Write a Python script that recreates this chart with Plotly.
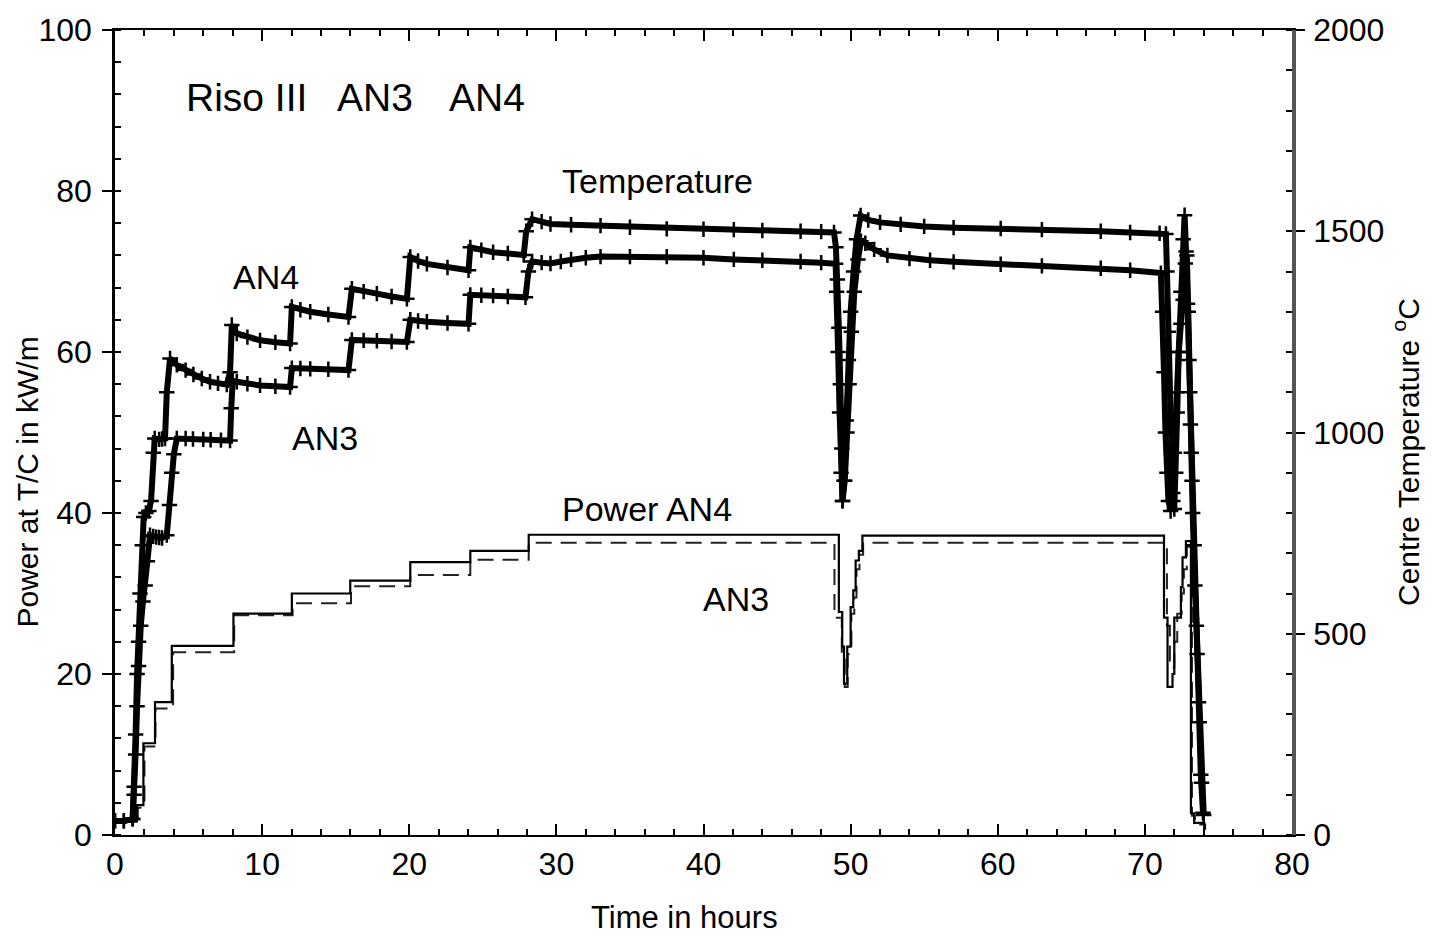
import plotly.graph_objects as go

# ---------------- data ----------------
# Power at T/C (kW/m), stepped
p4_t = [0, 1.48, 1.93, 2.72, 3.86, 8.05, 12.02, 15.99, 20.07, 24.15, 28.12, 49.2, 49.43, 49.55,
        49.77, 50.0, 50.18, 50.34, 50.56, 50.8, 71.3, 71.54, 71.88, 72.0, 72.45, 72.56, 72.79,
        73.13, 73.35, 74.03, 74.15]
p4_v = [1.65, 3.7, 11.4, 16.5, 23.5, 27.5, 30.0, 31.6, 33.9, 35.3, 37.3, 27.7, 23.4, 18.8,
        23.4, 28.3, 30.4, 34.1, 35.3, 37.2, 27.0, 18.4, 20.0, 27.0, 30.8, 34.5, 36.5,
        2.7, 1.5, 0.8, 0.8]

p3_t = [0, 1.55, 2.0, 2.75, 3.95, 8.1, 12.07, 16.04, 20.07, 24.15, 28.12, 48.9, 49.4, 49.6,
        49.8, 50.05, 50.25, 50.4, 50.6, 50.85, 71.5, 71.7, 72.0, 72.2, 72.5, 72.65, 72.85,
        73.2, 73.4, 74.1, 74.15]
p3_v = [1.6, 3.4, 11.0, 15.7, 22.7, 27.3, 28.8, 30.9, 32.3, 34.2, 36.3, 27.0, 22.5, 18.4,
        22.5, 27.5, 29.5, 33.0, 34.8, 36.3, 26.0, 20.8, 24.0, 27.5, 30.0, 33.0, 35.8,
        2.4, 1.3, 0.8, 0.8]

# Centre temperature (deg C)
t4_t = [0, 0.6, 1.2, 1.3, 1.4, 1.5, 1.6, 1.7, 1.85, 1.95, 2.1, 2.3, 2.45, 2.6, 2.7, 3.0, 3.2,
        3.4, 3.52, 3.74, 4.2, 4.8, 5.33, 5.9, 6.46, 7.0, 7.6, 7.82, 7.94, 8.28, 9.0, 9.86, 10.9,
        11.9, 12.02, 12.6, 13.27, 14.5, 15.87, 16.1, 16.9, 17.8, 18.8, 19.84, 20.07, 20.6, 21.2,
        22.6, 24.03, 24.15, 24.9, 25.7, 26.7, 27.78, 27.95, 28.35, 29.0, 29.6, 31.0, 33.0, 35.0,
        37.5, 40.0, 42.06, 44.0, 46.6, 48.0, 48.87, 49.0, 49.1, 49.2, 49.3, 49.4, 49.45, 49.55,
        49.7, 49.85, 50.0, 50.2, 50.4, 50.68, 51.2, 52.0, 53.4, 55.0, 57.0, 60.2, 63.0, 67.0,
        69.0, 71.0, 71.43, 71.5, 71.6, 71.7, 71.8, 71.9, 72.0, 72.1, 72.2, 72.3, 72.45, 72.6,
        72.7, 72.8, 72.9, 73.0, 73.1, 73.2, 73.35, 73.5, 73.65, 73.8, 73.95]
t4_v = [35, 35, 40, 120, 250, 400, 480, 600, 720, 790, 800, 805, 830, 950, 985, 983, 984,
        985, 1100, 1184, 1168, 1155, 1144, 1134, 1126, 1122, 1119, 1150, 1267, 1246, 1237, 1229, 1224,
        1221, 1312, 1305, 1300, 1293, 1287, 1357, 1350, 1345, 1338, 1332, 1436, 1426, 1419,
        1410, 1403, 1460, 1453, 1448, 1445, 1441, 1500, 1530, 1524, 1518, 1516, 1514, 1510,
        1506, 1505, 1504, 1502, 1500, 1499, 1497, 1460, 1380, 1260, 1120, 960, 830, 880,
        1030, 1180, 1300, 1400, 1480, 1539, 1528, 1522, 1517, 1512, 1509, 1507, 1504, 1500,
        1497, 1495, 1493, 1400, 1250, 1100, 950, 830, 810, 900, 1050, 1200, 1350, 1480,
        1540, 1450, 1320, 1180, 1020, 880, 720, 520, 330, 150, 55]

t3_t = [0, 0.6, 1.2, 1.3, 1.4, 1.5, 1.6, 1.75, 1.9, 2.05, 2.2, 2.38, 2.6, 2.8, 3.0, 3.2, 3.52,
        3.7, 3.85, 4.0, 4.2, 4.8, 5.3, 6.0, 6.5, 7.2, 7.82, 7.9, 8.0, 8.28, 9.0, 9.86, 10.9, 11.9,
        12.02, 12.6, 13.27, 14.5, 15.87, 16.1, 16.9, 17.8, 18.8, 19.84, 20.07, 20.6, 21.2, 22.6,
        24.03, 24.15, 24.9, 25.7, 26.7, 27.9, 28.1, 28.35, 29.0, 29.6, 30.3, 31.0, 32.0, 33.0,
        35.0, 37.5, 40.0, 42.06, 44.0, 46.6, 48.0, 48.98, 49.05, 49.15, 49.25, 49.35, 49.45,
        49.6, 49.75, 49.9, 50.05, 50.25, 50.5, 50.7, 51.0, 51.6, 52.5, 54.0, 55.4, 57.0, 60.2,
        63.0, 67.0, 69.0, 71.09, 71.2, 71.3, 71.4, 71.5, 71.6, 71.75, 71.9, 72.0, 72.15, 72.3,
        72.45, 72.6, 72.75, 72.85, 72.95, 73.05, 73.15, 73.25, 73.4, 73.55, 73.7, 73.85, 74.0]
t3_v = [35, 35, 40, 100, 200, 320, 420, 520, 580, 620, 680, 745, 742, 740, 739, 738, 745,
        820, 900, 946, 985, 985, 984, 983, 982, 981, 980, 1060, 1128, 1126, 1121, 1117, 1115, 1113,
        1160, 1159, 1158, 1157, 1155, 1230, 1229, 1228, 1226, 1225, 1280, 1277, 1275, 1272,
        1270, 1342, 1341, 1340, 1338, 1336, 1400, 1425, 1422, 1420, 1425, 1430, 1434, 1437,
        1437, 1437, 1434, 1430, 1428, 1425, 1422, 1419, 1350, 1200, 1050, 900, 830,
        880, 1000, 1120, 1250, 1350, 1430, 1475, 1470, 1455, 1440, 1432, 1428, 1424, 1418,
        1414, 1408, 1403, 1396, 1300, 1150, 1000, 900, 830, 805, 850, 950, 1100, 1200,
        1270, 1330, 1420, 1440, 1300, 1100, 950, 800, 620, 450, 280, 130, 50]

x_ticks = [0, 10, 20, 30, 40, 50, 60, 70, 80]
p_ticks = [0, 20, 40, 60, 80, 100]
temp_ticks = [0, 500, 1000, 1500, 2000]

# ---------------- figure ----------------
FONT = "Liberation Sans, Arial, Helvetica, sans-serif"
fig = go.Figure()

fig.add_trace(go.Scatter(x=p3_t, y=p3_v, mode="lines", line_shape="hv",
                         line=dict(color="#222", width=2, dash="16px,9px"),
                         name="Power AN3", showlegend=False))
fig.add_trace(go.Scatter(x=p4_t, y=p4_v, mode="lines", line_shape="hv",
                         line=dict(color="black", width=2.2),
                         name="Power AN4", showlegend=False))

for tt, tv, nm in [(t3_t, t3_v, "Temperature AN3"), (t4_t, t4_v, "Temperature AN4")]:
    fig.add_trace(go.Scatter(x=tt, y=tv, yaxis="y2", mode="lines+markers",
                             line=dict(color="black", width=6),
                             marker=dict(symbol="cross-thin", size=11,
                                         line=dict(color="black", width=2.5)),
                             name=nm, showlegend=False))

axis_font = dict(family=FONT, size=32, color="black")
fig.update_layout(
    width=1433, height=936,
    margin=dict(l=115, r=141, t=27, b=101),
    paper_bgcolor="white", plot_bgcolor="white",
    font=dict(family=FONT, color="black"),
    xaxis=dict(range=[0, 80], tickvals=x_ticks, ticks="inside", ticklen=11, tickwidth=2,
               tickcolor="black", showline=True, linecolor="black", linewidth=2,
               mirror="ticks", showgrid=False, zeroline=False, tickfont=axis_font,
               ticklabelstandoff=0,
               minor=dict(dtick=2, ticks="inside", ticklen=6, tickwidth=1.5,
                          tickcolor="black", showgrid=False)),
    yaxis=dict(range=[0, 100], tickvals=p_ticks, ticks="outside", ticklen=10, tickwidth=2,
               tickcolor="black", showline=True, linecolor="black", linewidth=2.5,
               showgrid=False, zeroline=False, tickfont=axis_font, ticklabelstandoff=4,
               minor=dict(dtick=4, ticks="inside", ticklen=6, tickwidth=1.5,
                          tickcolor="black", showgrid=False)),
    yaxis2=dict(range=[0, 2000], tickvals=temp_ticks, overlaying="y", side="right",
                ticks="outside", ticklen=9, tickwidth=2, tickcolor="black",
                showline=True, linecolor="#555", linewidth=3.5,
                showgrid=False, zeroline=False, tickfont=axis_font, ticklabelstandoff=2,
                minor=dict(dtick=100, ticks="inside", ticklen=6, tickwidth=1.5,
                           tickcolor="black", showgrid=False)),
)

def txt(s, x, y, size, angle=0):
    fig.add_annotation(text=s, x=x, y=y, xref="paper", yref="paper", showarrow=False,
                       xanchor="center", yanchor="middle", textangle=angle,
                       font=dict(family=FONT, size=size, color="black"))

txt("Riso III", 0.112, 0.916, 39)
txt("AN3", 0.221, 0.916, 39)
txt("AN4", 0.316, 0.916, 39)
txt("Temperature", 0.4605, 0.813, 34)
txt("AN4", 0.128, 0.693, 34)
txt("AN3", 0.178, 0.4926, 34)
txt("Power AN4", 0.452, 0.405, 34)
txt("AN3", 0.528, 0.293, 34)
txt("Time in hours", 0.484, -0.103, 31)
txt("Power at T/C in kW/m", -0.074, 0.439, 30, -90)
txt("Centre Temperature <sup>o</sup>C", 1.097, 0.476, 30, -90)

fig.write_html("out.html")
